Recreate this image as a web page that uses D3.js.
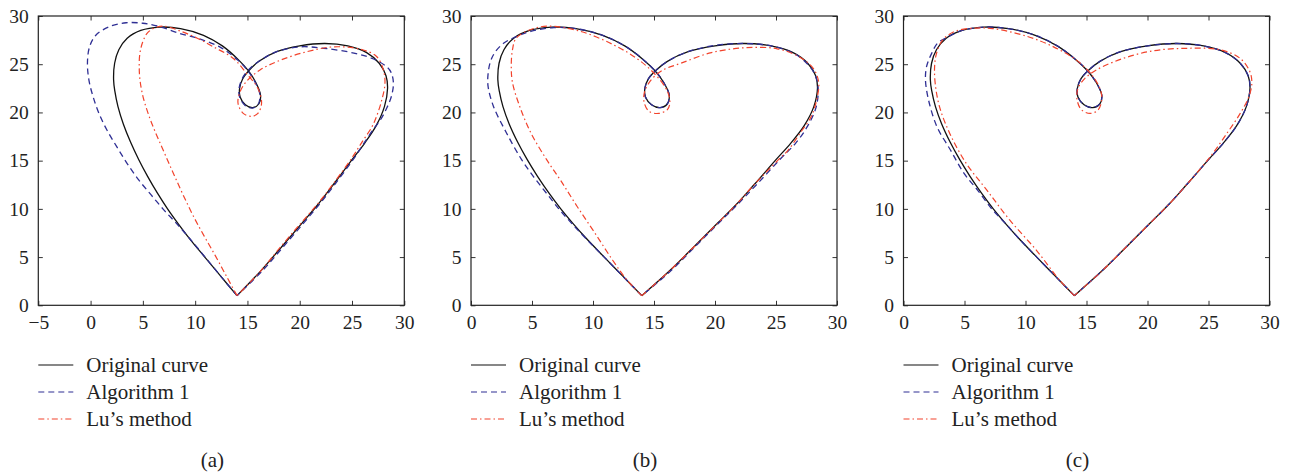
<!DOCTYPE html>
<html>
<head>
<meta charset="utf-8">
<script src="https://cdn.jsdelivr.net/npm/d3@7"></script>
<style>
  html, body { margin: 0; padding: 0; background: #fff; }
  svg { display: block; }
  text { font-family: "Liberation Serif", "DejaVu Serif", serif; fill: #222; }
</style>
</head>
<body>
<svg id="chart" width="1291" height="475"></svg>
<script>
// ---------------- data ----------------
const xTicksA = [-5, 0, 5, 10, 15, 20, 25, 30];
const xTicksBC = [0, 5, 10, 15, 20, 25, 30];
const yTicks = [0, 5, 10, 15, 20, 25, 30];
const legendLabels = ["Original curve", "Algorithm 1", "Lu\u2019s method"];
const panelLabels = ["(a)", "(b)", "(c)"];

// original curve (same in all panels): [x, y]
const originalCurve = [
  [14.0,1.0],[12.46,3.0],[10.92,5.0],[9.44,6.95],[8.35,8.5],[7.36,10.0],[6.41,11.6],[5.44,13.4],[4.61,15.1],
  [3.83,16.9],[3.13,18.8],[2.62,20.6],[2.32,22.2],[2.2,23.4],[2.3,25.1],[2.7,26.5],[3.5,27.7],[4.8,28.5],
  [6.6,28.85],[8.6,28.7],[10.8,28.0],[12.6,26.9],[14.1,25.5],[15.1,24.3],[15.8,23.1],[16.25,21.8],
  [16.1,20.9],[15.5,20.5],[14.8,20.8],[14.3,21.6],[14.25,22.5],[14.55,23.5],[15.1,24.3],[16.1,25.3],
  [17.8,26.3],[20.0,26.9],[22.4,27.15],[24.6,26.9],[26.4,26.2],[27.6,25.1],[28.25,23.8],[28.4,22.5],
  [28.1,20.6],[27.3,18.6],[26.2,16.8],[25.0,15.1],[23.2,12.5],[21.7,10.4],[20.2,8.5],[18.3,6.1],
  [16.3,3.6],[14.0,1.0]
];

// panel (a)
const alg1A = [
  [14.0,1.0],[12.46,3.0],[10.95,5.0],[9.5,6.9],[8.25,8.45],[7.0,9.9],[5.75,11.5],[4.6,13.0],[3.5,14.7],
  [2.5,16.45],[1.55,18.2],[0.8,19.9],[0.25,21.6],[-0.15,23.3],[-0.3,25.1],[-0.1,26.8],[0.5,28.0],
  [1.8,28.9],[3.4,29.3],[5.0,29.25],[6.6,28.9],[8.5,28.2],[10.5,27.6],[12.5,26.7],[14.1,25.4],
  [15.05,24.3],[15.8,23.0],[16.2,21.8],[16.0,20.8],[15.5,20.45],[14.8,20.7],[14.25,21.6],[14.2,22.5],
  [14.5,23.5],[15.05,24.35],[16.1,25.3],[17.8,26.3],[20.0,26.8],[22.3,26.65],[25.4,26.1],[27.35,25.4],
  [28.6,24.4],[28.95,23.2],[28.8,21.8],[28.3,20.4],[27.7,19.2],[27.0,18.2],[25.9,16.4],[25.1,15.1],
  [23.4,12.6],[21.9,10.5],[20.35,8.5],[18.45,6.1],[16.45,3.6],[14.0,1.0]
];
const luA = [
  [14.0,1.0],[12.95,3.1],[11.9,5.2],[10.85,7.2],[9.85,9.2],[9.0,11.1],[8.2,13.0],[7.5,14.7],[6.8,16.45],
  [6.1,18.2],[5.5,19.9],[5.0,21.7],[4.72,23.4],[4.65,24.8],[4.7,26.0],[4.95,27.2],[5.4,28.2],[6.1,28.75],
  [7.0,28.95],[8.55,28.45],[10.2,27.7],[11.75,26.8],[13.65,25.6],
  [14.9,24.05],[16.0,22.5],[16.35,20.95],[16.0,19.9],[15.4,19.6],[14.6,19.9],[14.1,20.95],[14.3,22.15],
  [14.9,23.2],[16.2,24.4],[18.1,25.4],[20.7,26.3],[23.2,26.8],[25.8,26.55],[27.35,25.8],[28.0,24.4],
  [28.15,23.0],[27.85,21.3],[27.35,19.6],[26.9,18.5],[26.0,17.0],[25.0,15.3],[23.2,12.6],[21.7,10.5],
  [20.1,8.5],[18.2,6.1],[16.3,3.6],[14.0,1.0]
];

// panel (b)
const alg1B = [
  [14.0,1.0],[12.46,3.0],[10.92,5.0],[9.4,6.95],[8.25,8.5],[7.2,10.0],[6.2,11.6],[5.15,13.3],[4.15,15.1],
  [2.9,17.9],[1.85,20.6],[1.4,22.7],[1.4,24.0],[1.6,25.3],[2.0,26.3],[2.7,27.2],[3.6,27.8],[4.9,28.4],
  [6.8,28.8],[8.8,28.65],[10.8,28.0],[12.6,26.9],[14.1,25.5],[15.1,24.3],[15.8,23.1],[16.25,21.8],
  [16.1,20.9],[15.5,20.5],[14.8,20.8],[14.3,21.6],[14.25,22.5],[14.55,23.5],[15.1,24.3],[16.1,25.3],
  [17.8,26.3],[20.0,26.95],[22.4,27.15],[24.6,26.9],[26.5,26.1],[27.6,25.0],[28.2,23.9],[28.45,22.6],
  [28.3,20.6],[27.6,18.6],[26.6,16.8],[25.3,15.1],[23.4,12.5],[21.8,10.4],[20.2,8.4],[18.3,6.0],
  [16.4,3.6],[14.0,1.0]
];
const luB = [
  [14.0,1.0],[12.8,2.6],[11.6,4.7],[10.1,7.6],[8.7,10.25],[7.4,12.85],[6.2,15.1],[4.9,17.9],[4.0,20.6],
  [3.4,23.1],[3.3,24.8],[3.4,26.5],[3.7,27.7],[4.9,28.6],[6.3,28.95],[9.0,28.4],[11.7,27.0],[13.7,25.5],
  [15.2,23.8],[16.1,22.2],[16.3,21.0],[16.1,20.3],[15.4,19.9],[14.6,20.1],[14.2,21.0],[14.2,22.0],
  [14.6,23.1],[15.6,24.3],[17.2,25.1],[19.7,26.2],[22.4,26.7],[25.1,26.6],[27.0,25.7],[28.1,24.5],
  [28.5,23.1],[28.4,21.7],[27.9,19.6],[27.0,17.9],[26.0,16.1],[25.2,15.1],[23.2,12.5],[21.7,10.4],
  [20.2,8.5],[18.3,6.1],[16.3,3.6],[14.0,1.0]
];

// panel (c)
const alg1C = [
  [14.0,1.0],[12.46,3.0],[10.92,5.0],[9.44,6.95],[8.35,8.5],[7.3,9.9],[6.1,11.9],[4.95,13.7],[3.85,16.1],
  [2.75,18.5],[2.05,21.3],[1.8,23.4],[1.9,24.8],[2.3,26.1],[2.8,27.2],[3.6,27.8],[4.8,28.5],
  [6.6,28.85],[8.6,28.7],[10.8,28.0],[12.6,26.9],[14.1,25.5],[15.1,24.3],[15.8,23.1],[16.25,21.8],
  [16.1,20.9],[15.5,20.5],[14.8,20.8],[14.3,21.6],[14.25,22.5],[14.55,23.5],[15.1,24.3],[16.1,25.3],
  [17.8,26.3],[20.0,26.9],[22.4,27.15],[24.6,26.9],[26.4,26.2],[27.6,25.1],[28.25,23.8],[28.4,22.5],
  [28.1,20.6],[27.3,18.6],[26.2,16.8],[25.0,15.1],[23.2,12.5],[21.7,10.4],[20.2,8.5],[18.3,6.1],
  [16.3,3.6],[14.0,1.0]
];
const luC = [
  [14.0,1.0],[12.8,2.6],[10.9,5.7],[8.7,8.85],[6.8,12.0],[5.15,14.7],[3.8,17.8],[2.95,20.6],[2.6,23.0],
  [2.55,24.75],[2.7,26.1],[3.2,27.5],[4.3,28.45],[6.0,28.75],[7.3,28.7],[10.1,27.9],[12.3,26.8],
  [14.2,25.4],[15.55,23.7],[16.15,22.3],[16.25,21.3],[15.95,20.26],[15.3,19.9],[14.6,20.26],[14.23,21.3],
  [14.3,22.5],[14.85,23.5],[15.8,24.4],[18.0,25.6],[20.5,26.4],[23.2,26.65],[25.95,26.5],[27.6,25.6],
  [28.4,24.2],[28.55,23.0],[28.3,21.6],[27.6,19.9],[26.6,18.0],[25.2,15.5],[23.2,12.5],[21.7,10.4],
  [20.2,8.5],[18.3,6.1],[16.3,3.6],[14.0,1.0]
];

// ---------------- drawing ----------------
const svg = d3.select("#chart");
const frameW = 366, frameTop = 16, frameBottom = 305.3;
const panels = [
  { left: 38.3,  xDomain: [-5, 30], xTicks: xTicksA,  alg: alg1A, lu: luA, label: panelLabels[0] },
  { left: 471,   xDomain: [0, 30],  xTicks: xTicksBC, alg: alg1B, lu: luB, label: panelLabels[1] },
  { left: 903.5, xDomain: [0, 30],  xTicks: xTicksBC, alg: alg1C, lu: luC, label: panelLabels[2] }
];
const styles = [
  { color: "#111111", dash: null,          width: 1.3 },
  { color: "#2f2f94", dash: "6,4",         width: 1.3 },
  { color: "#f2432c", dash: "6,3,1.5,3",   width: 1.2 }
];

panels.forEach(p => {
  const x = d3.scaleLinear().domain(p.xDomain).range([p.left, p.left + frameW]);
  const y = d3.scaleLinear().domain([0, 30]).range([frameBottom, frameTop]);
  const g = svg.append("g");

  const axB = d3.axisBottom(x).tickValues(p.xTicks).tickSizeInner(-4.5).tickSizeOuter(0).tickPadding(10)
    .tickFormat(d3.format("d"));
  const axT = d3.axisTop(x).tickValues(p.xTicks).tickSizeInner(-4.5).tickSizeOuter(0).tickFormat("");
  const axL = d3.axisLeft(y).tickValues(yTicks).tickSizeInner(-4.5).tickSizeOuter(0).tickPadding(9.5);
  const axR = d3.axisRight(y).tickValues(yTicks).tickSizeInner(-4.5).tickSizeOuter(0).tickFormat("");

  [[axB, `translate(0,${frameBottom})`], [axT, `translate(0,${frameTop})`],
   [axL, `translate(${p.left},0)`], [axR, `translate(${p.left + frameW},0)`]].forEach(([ax, tr]) => {
    const a = g.append("g").attr("transform", tr).call(ax);
    a.select(".domain").remove();
    a.selectAll(".tick line").attr("stroke", "#333").attr("stroke-width", 1);
    a.selectAll(".tick text").style("font-family", "Liberation Serif, serif").style("font-size", "19.5px").attr("fill", "#222");
  });

  g.append("rect").attr("x", p.left).attr("y", frameTop).attr("width", frameW).attr("height", frameBottom - frameTop)
    .attr("fill", "none").attr("stroke", "#222").attr("stroke-width", 1.2);

  const line = d3.line().x(d => x(d[0])).y(d => y(d[1])).curve(d3.curveCatmullRom.alpha(0.5));
  [originalCurve, p.alg, p.lu].forEach((data, i) => {
    g.append("path").datum(data).attr("d", line).attr("fill", "none")
      .attr("stroke", styles[i].color).attr("stroke-width", styles[i].width)
      .attr("stroke-dasharray", styles[i].dash).attr("stroke-linejoin", "round");
  });

  // legend
  const rowY = [365, 392, 419];
  legendLabels.forEach((lab, i) => {
    g.append("line").attr("x1", p.left).attr("x2", p.left + 35).attr("y1", rowY[i]).attr("y2", rowY[i])
      .attr("stroke", styles[i].color).attr("stroke-width", 1.2).attr("stroke-dasharray", styles[i].dash);
    g.append("text").attr("x", p.left + 48).attr("y", rowY[i]).attr("dy", "0.33em")
      .style("font-size", "21px").text(lab);
  });

  g.append("text").attr("x", p.left + frameW / 2 - 9).attr("y", 460).attr("dy", "0.33em")
    .attr("text-anchor", "middle").style("font-size", "21px").text(p.label);
});
</script>
</body>
</html>
